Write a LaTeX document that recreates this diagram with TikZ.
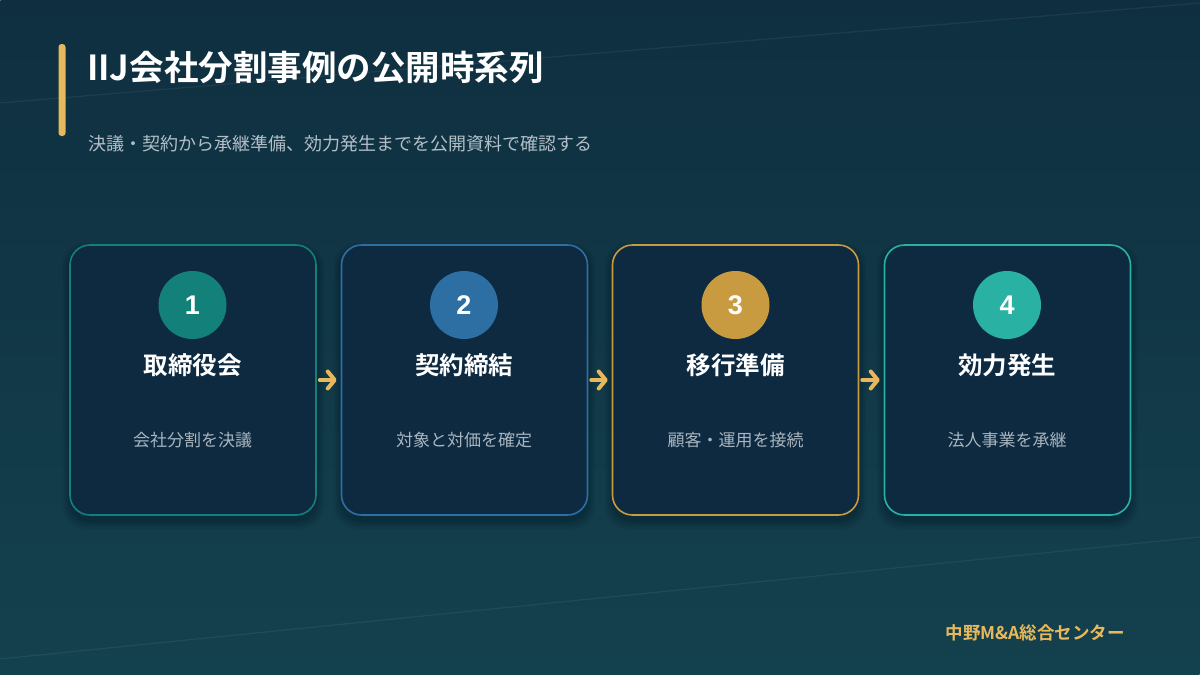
\documentclass[tikz,border=0pt]{standalone}
\usepackage{fontspec}
\setmainfont{Noto Sans CJK JP}
\newfontfamily\cjkb{Noto Sans CJK JP Bold}
\newfontfamily\numfont{Liberation Sans}
\usetikzlibrary{arrows.meta}
\definecolor{bgA}{HTML}{0A1D31}
\definecolor{bgM}{HTML}{0F3045}
\definecolor{bgB}{HTML}{19535D}
\definecolor{cardfill}{HTML}{0D2A41}
\definecolor{cA}{HTML}{14807A}
\definecolor{cB}{HTML}{2E6FA3}
\definecolor{cC}{HTML}{C89B40}
\definecolor{cD}{HTML}{29B1A4}
\definecolor{gold}{HTML}{E8B95C}
\definecolor{subgrey}{HTML}{B3BFC7}
\definecolor{descgrey}{HTML}{A9B5BE}
\tikzset{
  x=1pt,y=-1pt,
  card/.style={draw=#1,line width=1.6pt,fill=cardfill,rounded corners=20pt,minimum width=246pt,minimum height=270pt,inner sep=0pt},
  numdisc/.style={circle,fill=#1,minimum size=68pt,inner sep=0pt,text=white,font=\numfont\bfseries\fontsize{27}{30}\selectfont},
  cardtitle/.style={text=white,font=\cjkb\fontsize{24.5}{28}\selectfont,inner sep=0pt},
  carddesc/.style={text=descgrey,font=\fontsize{17}{20}\selectfont,inner sep=0pt},
  flow/.style={draw=gold,line width=4pt,line cap=round,-{Straight Barb[length=7pt,width=17pt,line cap=round,line join=round]},shorten <=3pt,shorten >=4pt},
  deco/.style={draw=white,opacity=0.06,line width=1.2pt}
}
\begin{document}
\begin{tikzpicture}
\useasboundingbox (0,0) rectangle (1200,675);
\begin{scope}
\clip (0,0) rectangle (1200,675);
\shade[top color=bgA,middle color=bgM,bottom color=bgB,rotate around={29.4:(600,337.5)}] (-400,-250.5) rectangle (1600,925.5);
\end{scope}
\draw[deco] (0,103) -- (1200,3);
\draw[deco] (0,659) -- (1200,537);
% title bar
\fill[gold,rounded corners=3pt] (58.5,44) rectangle (65.5,136);
\node[anchor=west,text=white,font=\cjkb\fontsize{34.5}{38}\selectfont,inner sep=0pt] (title) at (87,67) {IIJ会社分割事例の公開時系列};
\node[anchor=west,text=subgrey,font=\fontsize{18}{21}\selectfont,inner sep=0pt] (sub) at (88,144) {決議・契約から承継準備、効力発生までを公開資料で確認する};
% shadows
\foreach \cx in {193,464.5,735.5,1007.5}{
  \foreach \k in {1,...,8}{
    \fill[black,opacity=0.025,rounded corners=22pt] (\cx-123-\k,245+6-\k) rectangle (\cx+123+\k,515+6+\k);
  }
}
% cards
\node[card=cA] (c1) at (193,380) {};
\node[card=cB] (c2) at (464.5,380) {};
\node[card=cC] (c3) at (735.5,380) {};
\node[card=cD] (c4) at (1007.5,380) {};
% discs
\node[numdisc=cA] (n1) at (192.5,305) {1};
\node[numdisc=cB] (n2) at (464,305) {2};
\node[numdisc=cC] (n3) at (735.5,305) {3};
\node[numdisc=cD] (n4) at (1007,305) {4};
% titles
\node[cardtitle] (t1) at (192.5,365) {取締役会};
\node[cardtitle] (t2) at (464,365) {契約締結};
\node[cardtitle] (t3) at (735.5,365) {移行準備};
\node[cardtitle] (t4) at (1007,365) {効力発生};
% descriptions
\node[carddesc] (d1) at (192.5,440) {会社分割を決議};
\node[carddesc] (d2) at (464,440) {対象と対価を確定};
\node[carddesc] (d3) at (735.5,440) {顧客・運用を接続};
\node[carddesc] (d4) at (1007,440) {法人事業を承継};
% arrows
\draw[flow] (c1) -- (c2);
\draw[flow] (c2) -- (c3);
\draw[flow] (c3) -- (c4);
% footer
\node[anchor=east,text=gold,font=\cjkb\fontsize{17.5}{20}\selectfont,inner sep=0pt] (foot) at (1125,633) {中野M\&A総合センター};
\end{tikzpicture}
\end{document}
